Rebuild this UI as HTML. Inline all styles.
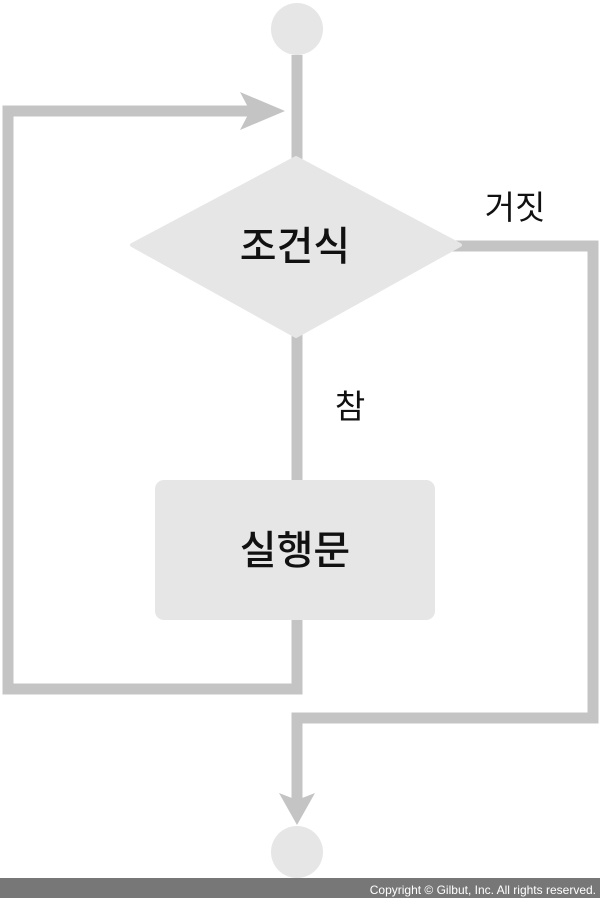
<!DOCTYPE html>
<html><head><meta charset="utf-8"><style>
body{margin:0;width:600px;height:898px;overflow:hidden;background:#fff;font-family:"Liberation Sans","Noto Sans CJK KR",sans-serif}
</style></head><body>
<svg width="600" height="898" viewBox="0 0 600 898" style="position:absolute;left:0;top:0">
<g fill="none" stroke="#c4c4c4" stroke-width="11">
<polyline points="297,55 297,170"/>
<polyline points="250,111 8,111 8,689 297,689 297,610"/>
<polyline points="297,330 297,490"/>
<polyline points="450,246 593,246 593,718 297,718 297,800"/>
</g>
<polygon points="240,92 285,111 240,130 250,111" fill="#c4c4c4"/>
<polygon points="279,793 297,825 315,793 297,800" fill="#c4c4c4"/>
<circle cx="297" cy="29" r="26" fill="#e6e6e6"/>
<circle cx="297" cy="852" r="26" fill="#e6e6e6"/>
<polygon points="296,158 460,245 296,336 132,245" fill="#e6e6e6" stroke="#e6e6e6" stroke-width="4" stroke-linejoin="round"/>
<rect x="155" y="480" width="280" height="140" rx="9" fill="#e6e6e6"/>
<g font-family="Liberation Sans, Noto Sans CJK KR, sans-serif" fill="#111" text-anchor="middle">
<text x="295" y="260" font-size="40" font-weight="500">조건식</text>
<text x="295" y="564" font-size="40" font-weight="500">실행문</text>
<text x="515" y="219" font-size="33">거짓</text>
<text x="350" y="418" font-size="33">참</text>
</g>
<rect x="0" y="878" width="600" height="20" fill="#777"/>
<text x="596" y="894" font-size="12" fill="#fff" text-anchor="end" font-family="Liberation Sans, sans-serif">Copyright © Gilbut, Inc. All rights reserved.</text>
</svg>
</body></html>
